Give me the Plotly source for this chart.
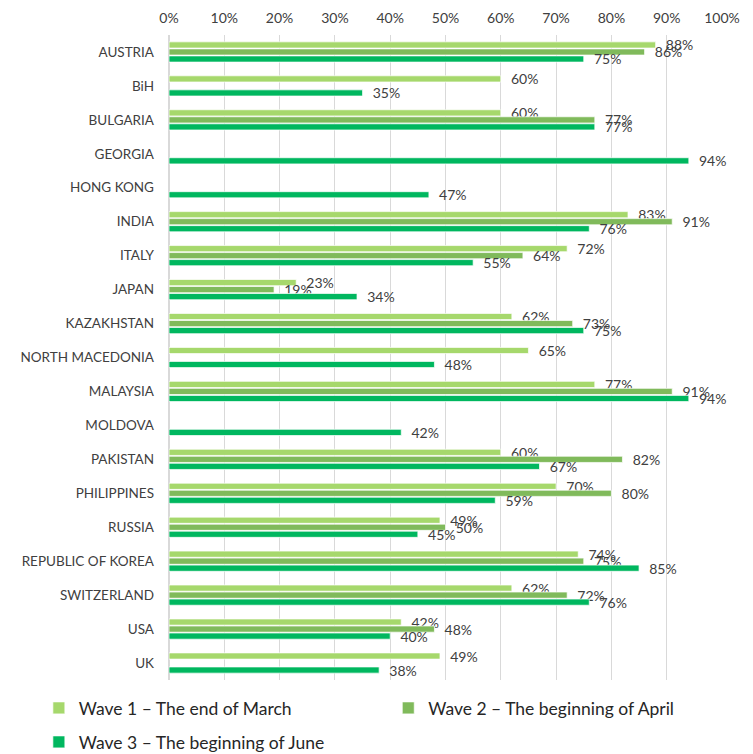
from plotly import graph_objects as go

countries = ["AUSTRIA", "BiH", "BULGARIA", "GEORGIA", "HONG KONG", "INDIA", "ITALY", "JAPAN",
             "KAZAKHSTAN", "NORTH MACEDONIA", "MALAYSIA", "MOLDOVA", "PAKISTAN", "PHILIPPINES",
             "RUSSIA", "REPUBLIC OF KOREA", "SWITZERLAND", "USA", "UK"]

wave1 = [88, 60, 60, None, None, 83, 72, 23, 62, 65, 77, None, 60, 70, 49, 74, 62, 42, 49]
wave2 = [86, None, 77, None, None, 91, 64, 19, 73, None, 91, None, 82, 80, 50, 75, 72, 48, None]
wave3 = [75, 35, 77, 94, 47, 76, 55, 34, 75, 48, 94, 42, 67, 59, 45, 85, 76, 40, 38]

series_names = ["Wave 1 \u2013 The end of March",
                "Wave 2 \u2013 The beginning of April",
                "Wave 3 \u2013 The beginning of June"]
series_colors = ["#A6D86C", "#80BA5B", "#00B75F"]
legend_ids = ["legend", "legend2", "legend3"]

FONT = "Lato, 'Open Sans', sans-serif"

fig = go.Figure()
for name, values, color, lg in zip(series_names, [wave1, wave2, wave3], series_colors, legend_ids):
    labels = ["\u00a0\u00a0" + f"{v}%" if v is not None else "" for v in values]
    fig.add_trace(go.Bar(
        name=name, y=countries, x=values, orientation="h", legend=lg, showlegend=True,
        marker=dict(color=color, line=dict(color="rgba(255,255,255,0.7)", width=1)),
        text=labels, textposition="outside", cliponaxis=False, constraintext="none",
        textfont=dict(family=FONT, size=14, color="#404040"),
    ))

# one legend box per series so the 2 + 1 layout sits where the original has it
legend_style = dict(orientation="h", xref="container", yref="container", yanchor="middle",
                    font=dict(size=17.5, color="#262626"), itemwidth=30,
                    bgcolor="rgba(0,0,0,0)")

fig.update_layout(
    width=753, height=754, showlegend=True,
    margin=dict(l=161, r=39, t=27, b=82, autoexpand=False),
    plot_bgcolor="white", paper_bgcolor="white",
    barmode="group", bargap=0.38, bargroupgap=0.12,
    font=dict(family=FONT, size=13, color="#404040"),
    xaxis=dict(range=[0, 100], dtick=10, ticksuffix="%", side="top", automargin=False,
               tickangle=0, ticklabelstandoff=8, showgrid=True, gridcolor="#D9D9D9", gridwidth=1,
               zeroline=True, zerolinecolor="#D9D9D9", showline=False,
               tickfont=dict(size=14, color="#404040")),
    yaxis=dict(autorange="reversed", showgrid=False, ticklabelstandoff=14, automargin=False,
               tickfont=dict(size=13.5, color="#404040")),
    legend=dict(legend_style, x=0.041, y=1 - 700 / 754),
    legend2=dict(legend_style, x=0.505, y=1 - 700 / 754),
    legend3=dict(legend_style, x=0.041, y=1 - 734 / 754),
)

fig.write_html("out.html")
